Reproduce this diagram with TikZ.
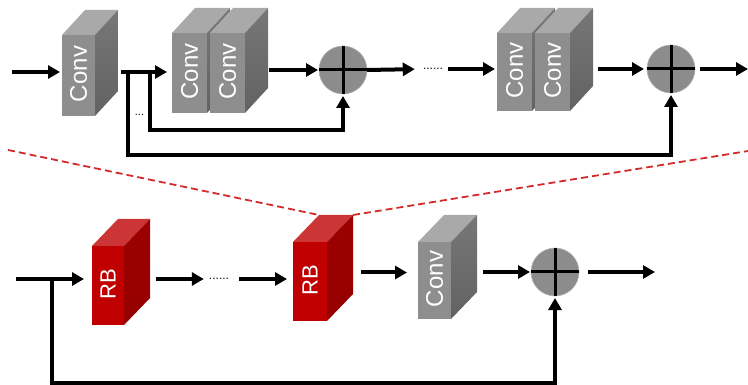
\documentclass[tikz,border=0pt]{standalone}
\usepackage{fontspec}
\setmainfont{Liberation Sans}
\usetikzlibrary{arrows.meta,calc}

\definecolor{grayfront}{HTML}{8E8E8E}
\definecolor{graytop}{HTML}{A9A9A9}
\definecolor{graysideA}{HTML}{777777}
\definecolor{graysideB}{HTML}{626262}
\definecolor{redfront}{HTML}{C00000}
\definecolor{redtop}{HTML}{CC3535}
\definecolor{redsideA}{HTML}{9C0000}
\definecolor{redsideB}{HTML}{960000}
\definecolor{sumfill}{HTML}{8C8C8C}
\definecolor{zoomred}{HTML}{D42A2A}

% depth of the cuboids (right, up)
\def\cdx{23}\def\cdy{-25}

% #1 name, #2 left x, #3 top y, #4 width, #5 height, #6 colour set, #7 label, #8 label size
\newcommand\cuboid[8]{%
  \node[frontface, fill=#6front, minimum width=#4pt, minimum height=#5pt,
        anchor=north west] (#1) at (#2,#3) {};
  \coordinate (#1-tl) at ($(#1.north west)+(\cdx,\cdy)$);
  \coordinate (#1-tr) at ($(#1.north east)+(\cdx,\cdy)$);
  \coordinate (#1-br) at ($(#1.south east)+(\cdx,\cdy)$);
  \fill[#6top] (#1.north west) -- (#1-tl) -- (#1-tr) -- (#1.north east) -- cycle;
  \shade[top color=#6sideA, bottom color=#6sideB]
    (#1.north east) -- (#1-tr) -- (#1-br) -- (#1.south east) -- cycle;
  \node[blocklabel, rotate=90, font=\fontsize{#8pt}{#8pt}\selectfont] (#1-txt) at ($(#1.center)+(0,-1.5)$) {#7};
}

\tikzset{
  frontface/.style={rectangle, draw=none, inner sep=0pt, outer sep=0pt},
  blocklabel/.style={text=white, inner sep=0pt},
  sumnode/.style={circle, fill=sumfill, draw=gray!60, line width=0.6pt,
                  minimum size=48pt, inner sep=0pt, outer sep=0pt},
  arr/.style={line width=4pt, -{Triangle[length=12pt,width=13pt]}},
  dotsnode/.style={inner sep=0pt, font=\fontsize{12pt}{12pt}\selectfont},
  zoomline/.style={zoomred, line width=1.8pt, dash pattern=on 7pt off 4pt}
}

\newcommand\sumcross[1]{%
  \draw[line width=3pt] (#1.north) -- (#1.south) (#1.west) -- (#1.east);
}

\begin{document}
\begin{tikzpicture}[x=1pt,y=-1pt]
\useasboundingbox (0,0) rectangle (748,385);

% ---------- upper chain ----------
\cuboid{c1}{62}{35}{33}{81}{gray}{Conv}{24}
\cuboid{c2a}{172}{33}{35}{80}{gray}{Conv}{24}
\cuboid{c2b}{210}{33}{35}{80}{gray}{Conv}{24}
\cuboid{c3a}{497}{33}{35}{78}{gray}{Conv}{24}
\cuboid{c3b}{535}{33}{35}{78}{gray}{Conv}{24}

\node[sumnode] (s1) at (343,70) {};
\node[sumnode] (s2) at (671,69) {};
\sumcross{s1}
\sumcross{s2}

\node[dotsnode] (d1) at (433,69) {......};
\node[inner sep=0pt, font=\fontsize{11pt}{11pt}\selectfont] (d0) at (139.5,115) {...};

\coordinate (in1) at (12,72);
\coordinate (j1) at (128,72);
\coordinate (j2) at (150,72);
\coordinate (out1) at (748,69);

\draw[arr, shorten >=2pt] (in1) -- (c1.west |- in1);
\draw[arr, shorten <=3pt, shorten >=5pt] (c1-tr |- in1) -- (c2a.west |- in1);
\draw[arr, shorten <=1pt, shorten >=1pt] (s1.west -| c2b-tr) -- (s1.west);
\draw[arr, shorten >=8pt] (s1.east) -- (d1.west);
\draw[arr, shorten <=5pt, shorten >=2pt] (d1.east) -- (c3a.west |- d1.east);
\draw[arr, shorten <=5pt, shorten >=3pt] (s2.west -| c3b-tr) -- (s2.west);
\draw[arr, shorten <=5pt] (s2.east) -- (out1);

\draw[arr, shorten >=2pt] (j2) -- ++(0,58) -| (s1.south);
\draw[arr, shorten >=2pt] (j1) -- ++(0,83) -| (s2.south);

% ---------- lower chain ----------
\def\cdx{26}\def\cdy{-27}
\coordinate (zl) at (8,150);
\coordinate (zr) at (748,151);

\cuboid{rb1}{92}{246}{32}{79}{red}{RB}{22}
\cuboid{rb2}{293}{242}{34}{79}{red}{RB}{22}
\cuboid{c4}{418}{242}{33}{77}{gray}{Conv}{24}

\draw[zoomline] (zl) -- (rb2-tl);
\draw[zoomline] (rb2-tr) -- (zr);

\node[sumnode] (s3) at (555,272) {};
\sumcross{s3}

\node[dotsnode] (d2) at (219,279) {......};

\coordinate (in2) at (16,279);
\coordinate (j3) at (52,279);
\coordinate (out2) at (655,272);

\draw[arr, shorten >=8pt] (in2) -- (rb1.west |- in2);
\draw[arr, shorten <=6pt, shorten >=5pt] (rb1-tr |- in2) -- (d2.west);
\draw[arr, shorten <=10pt, shorten >=6pt] (d2.east) -- (rb2.west |- d2.east);
\draw[arr, shorten <=8pt, shorten >=11pt] ($(rb2-tr |- c4.west)+(0,-8)$) -- ($(c4.west)+(0,-8)$);
\draw[arr, shorten <=6pt, shorten >=1pt] (s3.west -| c4-tr) -- (s3.west);
\draw[arr, shorten <=9pt] (s3.east) -- (out2);

\draw[arr, shorten >=2pt] (j3) -- ++(0,104) -| (s3.south);
\end{tikzpicture}
\end{document}
